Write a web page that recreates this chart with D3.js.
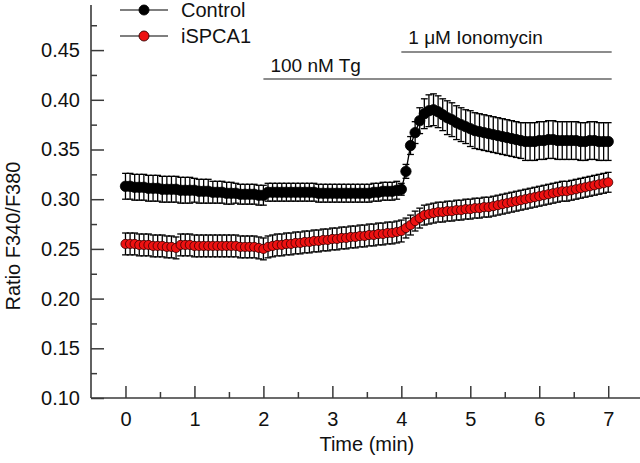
<!DOCTYPE html>
<html><head><meta charset="utf-8">
<script src="https://cdn.jsdelivr.net/npm/d3@7"></script>
<style>
body{margin:0;background:#fff}
svg{display:block}
text{font-family:Arial,"Liberation Sans",sans-serif;fill:#111}
</style>
</head><body>
<svg id="chart" width="640" height="463"></svg>
<script>
// ---------- data ----------
const seriesNames = ["Control", "iSPCA1"];
const xTickValues = [0, 1, 2, 3, 4, 5, 6, 7];
const yTickValues = [0.10, 0.15, 0.20, 0.25, 0.30, 0.35, 0.40, 0.45];
const sampleStepMin = 1 / 15; // one reading every 4 s

const controlMean = [
  0.313,0.313,0.312,0.312,0.312,0.311,0.311,0.311,0.310,0.310,0.310,0.310,0.309,0.309,0.309,
  0.309,0.308,0.308,0.308,0.307,0.307,0.307,0.306,0.306,0.306,0.305,0.305,0.305,0.305,0.304,
  0.304,0.307,0.307,0.307,0.307,0.307,0.307,0.307,0.307,0.307,0.307,0.307,0.306,0.306,0.306,
  0.306,0.306,0.306,0.306,0.306,0.306,0.306,0.306,0.306,0.307,0.307,0.308,0.308,0.308,0.309,
  0.310,0.328,0.354,0.367,0.379,0.386,0.389,0.390,0.388,0.385,0.382,0.380,0.377,0.375,0.373,
  0.371,0.369,0.368,0.367,0.366,0.365,0.364,0.363,0.362,0.361,0.360,0.359,0.358,0.358,0.358,
  0.359,0.359,0.360,0.360,0.359,0.359,0.359,0.359,0.359,0.358,0.358,0.359,0.359,0.358,0.358,0.358
];
const controlErr = [
  0.013,0.013,0.013,0.013,0.013,0.013,0.013,0.013,0.013,0.013,0.013,0.013,0.013,0.013,0.013,
  0.012,0.012,0.012,0.012,0.011,0.011,0.011,0.011,0.011,0.010,0.010,0.010,0.010,0.010,0.010,
  0.010,0.009,0.009,0.009,0.009,0.009,0.009,0.009,0.009,0.009,0.009,0.009,0.009,0.009,0.009,
  0.009,0.009,0.009,0.009,0.009,0.009,0.009,0.009,0.009,0.009,0.009,0.009,0.009,0.009,0.009,
  0.006,0.007,0.009,0.011,0.013,0.015,0.016,0.016,0.016,0.016,0.017,0.017,0.017,0.017,0.017,
  0.018,0.018,0.018,0.018,0.018,0.018,0.018,0.018,0.018,0.018,0.018,0.018,0.019,0.019,0.019,
  0.019,0.019,0.019,0.019,0.019,0.019,0.019,0.019,0.019,0.019,0.019,0.019,0.019,0.019,0.019,0.019
];
const ispcaMean = [
  0.255,0.255,0.255,0.254,0.254,0.254,0.253,0.253,0.253,0.252,0.252,0.251,0.254,0.254,0.254,
  0.253,0.253,0.253,0.253,0.253,0.253,0.253,0.253,0.253,0.253,0.252,0.252,0.252,0.252,0.251,
  0.250,0.252,0.253,0.254,0.254,0.255,0.255,0.256,0.256,0.257,0.257,0.258,0.258,0.259,0.259,
  0.260,0.260,0.261,0.261,0.262,0.262,0.263,0.263,0.264,0.264,0.265,0.265,0.266,0.266,0.267,
  0.268,0.271,0.274,0.278,0.281,0.284,0.285,0.286,0.287,0.287,0.288,0.288,0.289,0.289,0.290,
  0.290,0.291,0.291,0.292,0.292,0.293,0.294,0.295,0.296,0.297,0.298,0.299,0.300,0.301,0.302,
  0.303,0.304,0.305,0.306,0.307,0.308,0.308,0.309,0.310,0.311,0.312,0.313,0.314,0.315,0.316,0.317
];
const ispcaErr = [
  0.011,0.011,0.011,0.011,0.011,0.011,0.011,0.011,0.011,0.011,0.011,0.011,0.011,0.011,0.011,
  0.011,0.011,0.011,0.011,0.011,0.011,0.011,0.011,0.011,0.011,0.011,0.011,0.011,0.011,0.011,
  0.011,0.011,0.011,0.011,0.011,0.011,0.011,0.011,0.011,0.011,0.011,0.011,0.011,0.011,0.011,
  0.011,0.011,0.011,0.011,0.011,0.011,0.011,0.011,0.011,0.011,0.011,0.011,0.011,0.011,0.011,
  0.011,0.010,0.010,0.010,0.010,0.010,0.010,0.010,0.010,0.010,0.010,0.010,0.010,0.010,0.010,
  0.010,0.010,0.010,0.010,0.010,0.010,0.010,0.010,0.010,0.010,0.010,0.010,0.010,0.010,0.010,
  0.010,0.010,0.010,0.010,0.010,0.010,0.010,0.010,0.010,0.010,0.010,0.010,0.010,0.010,0.010,0.010
];
const annotationLabels = ["100 nM Tg", "1 \u03bcM Ionomycin"];
const annotationStart = [2.0, 4.0];
const annotationEnd = [7.05, 7.05];

// ---------- layout ----------
const svg = d3.select("#chart");
const x = d3.scaleLinear().domain([-0.5, 7.5]).range([91, 642.7]);
const y = d3.scaleLinear().domain([0.10, 0.50]).range([398, 0.4]);
const axisColor = "#3a3a3a";
const colors = { Control: "#000000", iSPCA1: "#ee1111" };

const series = [
  { name: seriesNames[0], mean: controlMean, err: controlErr, fill: colors.Control, stroke: "#000", r: 5.2 },
  { name: seriesNames[1], mean: ispcaMean, err: ispcaErr, fill: colors.iSPCA1, stroke: "#3a0000", r: 4.6 }
];
series.forEach(s => {
  s.points = s.mean.map((v, i) => ({ t: i * sampleStepMin, v, e: s.err[i] }));
});

// ---------- axes ----------
const yAxisMajor = d3.axisLeft(y).tickValues(yTickValues).tickFormat(d3.format(".2f"))
  .tickSizeInner(-13).tickSizeOuter(0).tickPadding(11);
const yAxisMinor = d3.axisLeft(y).tickValues([0.125,0.175,0.225,0.275,0.325,0.375,0.425,0.475])
  .tickSizeInner(-6).tickSizeOuter(0).tickFormat("");
const xAxisMajor = d3.axisBottom(x).tickValues(xTickValues).tickFormat(d3.format("d"))
  .tickSizeInner(-12).tickSizeOuter(0).tickPadding(14);
const xAxisMinor = d3.axisBottom(x).tickValues([0.5,1.5,2.5,3.5,4.5,5.5,6.5])
  .tickSizeInner(-6).tickSizeOuter(0).tickFormat("");

function styleAxis(g) {
  g.select(".domain").remove();
  g.selectAll(".tick line").attr("stroke", axisColor).attr("stroke-width", 1.5);
  g.selectAll(".tick text").attr("font-size", 20).attr("fill", "#111")
    .attr("font-family", "Arial, 'Liberation Sans', sans-serif");
}
svg.append("g").attr("transform", `translate(${x(-0.5)},0)`).call(yAxisMajor).call(styleAxis);
svg.append("g").attr("transform", `translate(${x(-0.5)},0)`).call(yAxisMinor).call(styleAxis);
svg.append("g").attr("transform", `translate(0,${y(0.10)})`).call(xAxisMajor).call(styleAxis);
svg.append("g").attr("transform", `translate(0,${y(0.10)})`).call(xAxisMinor).call(styleAxis);

// axis lines
svg.append("line").attr("x1", x(-0.5)).attr("x2", x(-0.5)).attr("y1", y(0.10)).attr("y2", 5)
  .attr("stroke", axisColor).attr("stroke-width", 1.6);
svg.append("line").attr("x1", x(-0.5)).attr("x2", 640).attr("y1", y(0.10)).attr("y2", y(0.10))
  .attr("stroke", axisColor).attr("stroke-width", 1.6);

// axis titles
svg.append("text").attr("x", (x(0) + x(7)) / 2).attr("y", 451).attr("text-anchor", "middle")
  .attr("font-size", 20).text("Time (min)");
svg.append("text").attr("transform", `translate(20,${236}) rotate(-90)`).attr("text-anchor", "middle")
  .attr("font-size", 20).text("Ratio F340/F380");

// ---------- annotations ----------
const annY = [y(0.421), y(0.448)];
const annTextY = [72, 44];
annotationLabels.forEach((lab, i) => {
  svg.append("line").attr("x1", x(annotationStart[i])).attr("x2", x(annotationEnd[i]))
    .attr("y1", annY[i]).attr("y2", annY[i]).attr("stroke", "#8c8c8c").attr("stroke-width", 2);
  svg.append("text").attr("x", x(annotationStart[i]) + 7).attr("y", annTextY[i])
    .attr("font-size", 19).text(lab);
});

// ---------- series ----------
const capHalf = 3.4;
series.forEach(s => {
  const g = svg.append("g");
  const eb = g.append("g").attr("stroke", "#000").attr("stroke-width", 1.3).attr("fill", "none");
  s.points.forEach(p => {
    const cx = x(p.t), yt = y(p.v + p.e), yb = y(p.v - p.e);
    eb.append("line").attr("x1", cx).attr("x2", cx).attr("y1", yt).attr("y2", yb);
    eb.append("line").attr("x1", cx - capHalf).attr("x2", cx + capHalf).attr("y1", yt).attr("y2", yt);
    eb.append("line").attr("x1", cx - capHalf).attr("x2", cx + capHalf).attr("y1", yb).attr("y2", yb);
  });
});
series.forEach(s => {
  const g = svg.append("g");
  g.append("path").datum(s.points)
    .attr("d", d3.line().x(p => x(p.t)).y(p => y(p.v)))
    .attr("fill", "none").attr("stroke", "#000").attr("stroke-width", 1.3);
  g.selectAll("circle").data(s.points).join("circle")
    .attr("cx", p => x(p.t)).attr("cy", p => y(p.v)).attr("r", s.r)
    .attr("fill", s.fill).attr("stroke", s.stroke).attr("stroke-width", 0.8);
});

// ---------- legend ----------
const legY = [10, 36];
series.forEach((s, i) => {
  const lg = svg.append("g");
  lg.append("line").attr("x1", 120).attr("x2", 168).attr("y1", legY[i]).attr("y2", legY[i])
    .attr("stroke", "#555").attr("stroke-width", 1.4);
  lg.append("circle").attr("cx", 144).attr("cy", legY[i]).attr("r", 5)
    .attr("fill", s.fill).attr("stroke", s.stroke).attr("stroke-width", 0.9);
  lg.append("text").attr("x", 181).attr("y", legY[i] + 7).attr("font-size", 20).text(s.name);
});
</script>
</body></html>
